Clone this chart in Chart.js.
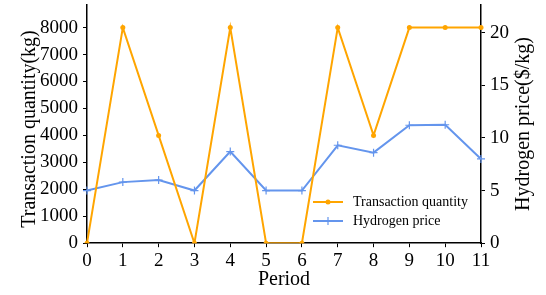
<!DOCTYPE html>
<html>
<head>
<meta charset="utf-8">
<script src="https://cdn.jsdelivr.net/npm/chart.js@4.4.1/dist/chart.umd.min.js"></script>
<style>
  html, body { margin: 0; padding: 0; background: #fff; }
  #wrap { width: 546px; height: 295px; }
</style>
</head>
<body>
<div id="wrap"><canvas id="myChart" width="546" height="295"></canvas></div>
<script>
var periods = ['0', '1', '2', '3', '4', '5', '6', '7', '8', '9', '10', '11'];
var quantity = [0, 8000, 4000, 0, 8000, 0, 0, 8000, 4000, 8000, 8000, 8000];
var price = [5, 5.8, 6, 5, 8.7, 5, 5, 9.3, 8.6, 11.2, 11.25, 8];
var quantityTicks = [0, 1000, 2000, 3000, 4000, 5000, 6000, 7000, 8000];
var priceTicks = [0, 5, 10, 15, 20];

var orange = '#FFA500';
var blue = '#6495ED';
var serif = "'Liberation Serif', 'DejaVu Serif', serif";

// axis titles + legend drawn by hand (matplotlib look)
var extras = {
    id: 'extras',
    afterDraw: function (chart) {
        var ctx = chart.ctx;
        var area = chart.chartArea;
        ctx.save();
        ctx.fillStyle = '#000';
        ctx.font = '20px ' + serif;
        ctx.textAlign = 'center';
        ctx.textBaseline = 'middle';
        ctx.fillText('Period', (area.left + area.right) / 2, 280);

        ctx.save();
        ctx.translate(30, 129);
        ctx.rotate(-Math.PI / 2);
        ctx.fillText('Transaction quantity(kg)', 0, 0);
        ctx.restore();

        ctx.save();
        ctx.translate(524, 124);
        ctx.rotate(-Math.PI / 2);
        ctx.fillText('Hydrogen price($/kg)', 0, 0);
        ctx.restore();

        // legend
        var lx = 313, ly = 202, gap = 19;
        chart.data.datasets.forEach(function (ds, i) {
            var y = ly + i * gap;
            ctx.strokeStyle = ds.borderColor;
            ctx.lineWidth = 2;
            ctx.beginPath();
            ctx.moveTo(lx, y);
            ctx.lineTo(lx + 30, y);
            ctx.stroke();
            if (ds.pointStyle === 'circle') {
                ctx.fillStyle = ds.borderColor;
                ctx.beginPath();
                ctx.arc(lx + 15, y, 2.5, 0, Math.PI * 2);
                ctx.fill();
            } else {
                ctx.lineWidth = 1.2;
                ctx.beginPath();
                ctx.moveTo(lx + 15, y - 4);
                ctx.lineTo(lx + 15, y + 4);
                ctx.moveTo(lx + 11, y);
                ctx.lineTo(lx + 19, y);
                ctx.stroke();
            }
            ctx.fillStyle = '#000';
            ctx.font = '14px ' + serif;
            ctx.textAlign = 'left';
            ctx.fillText(ds.label, lx + 40, y);
        });
        ctx.restore();
    }
};

function fixedTicks(list) {
    return function (scale) {
        scale.ticks = list.map(function (v) { return { value: v }; });
    };
}

// let the axes start right at the top like matplotlib
function noEndPadding(scale) {
    scale.paddingTop = 0;
    scale.paddingBottom = 0;
}

var config = {
    type: 'line',
    data: {
        labels: periods,
        datasets: [{
            label: 'Transaction quantity',
            data: quantity,
            yAxisID: 'y',
            borderColor: orange,
            backgroundColor: orange,
            borderWidth: 2,
            pointStyle: 'circle',
            pointRadius: 2.5,
            pointBorderWidth: 0,
            tension: 0
        }, {
            label: 'Hydrogen price',
            data: price,
            yAxisID: 'y1',
            borderColor: blue,
            backgroundColor: blue,
            borderWidth: 2,
            pointStyle: 'cross',
            pointRadius: 4,
            pointBorderWidth: 1.2,
            tension: 0
        }]
    },
    options: {
        responsive: false,
        animation: false,
        layout: {
            padding: { left: 35, right: 32, top: 5, bottom: 21 }
        },
        plugins: {
            legend: { display: false },
            tooltip: { enabled: false }
        },
        scales: {
            x: {
                offset: false,
                grid: { drawOnChartArea: false, tickLength: 4, tickColor: '#000', tickWidth: 1 },
                border: { display: true, color: '#000', width: 1.5 },
                ticks: { color: '#000', font: { family: serif, size: 19 }, padding: 2, maxRotation: 0, autoSkip: false }
            },
            y: {
                position: 'left',
                min: 0,
                max: 8830,
                afterBuildTicks: fixedTicks(quantityTicks),
                afterFit: noEndPadding,
                grid: { drawOnChartArea: false, tickLength: 4, tickColor: '#000', tickWidth: 1 },
                border: { display: true, color: '#000', width: 1.5 },
                ticks: { color: '#000', font: { family: serif, size: 19 }, padding: 5, callback: function (v) { return String(v); } }
            },
            y1: {
                position: 'right',
                min: 0,
                max: 22.6,
                afterBuildTicks: fixedTicks(priceTicks),
                afterFit: noEndPadding,
                grid: { drawOnChartArea: false, tickLength: 4, tickColor: '#000', tickWidth: 1 },
                border: { display: true, color: '#000', width: 1.5 },
                ticks: { color: '#000', font: { family: serif, size: 19 }, padding: 5, callback: function (v) { return String(v); } }
            }
        }
    },
    plugins: [extras]
};

new Chart(document.getElementById('myChart').getContext('2d'), config);
</script>
</body>
</html>
